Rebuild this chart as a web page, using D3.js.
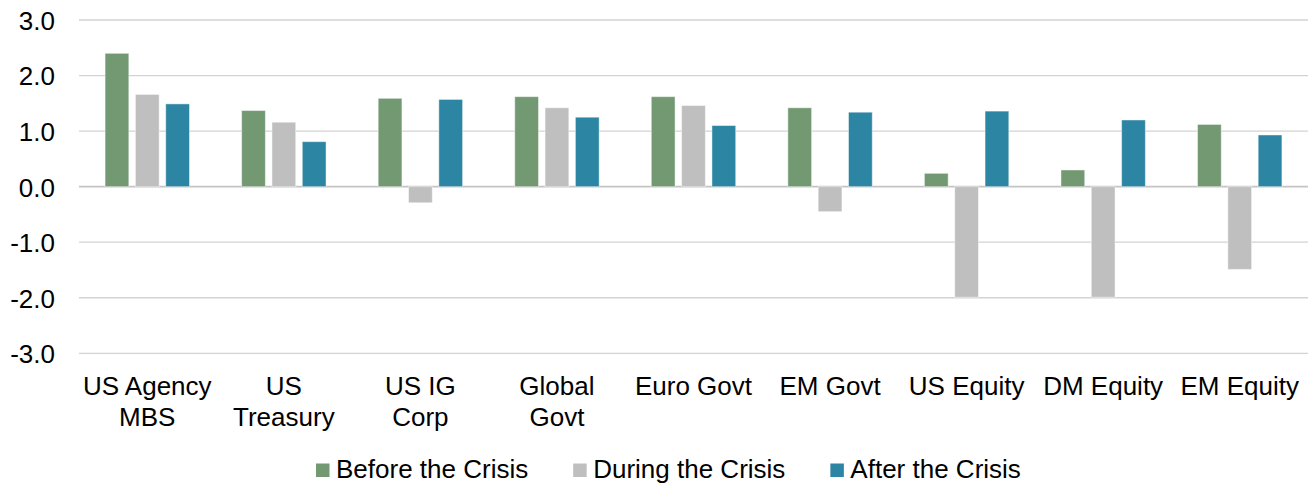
<!DOCTYPE html>
<html>
<head>
<meta charset="utf-8">
<script src="https://cdn.jsdelivr.net/npm/d3@7"></script>
<style>
    html, body { margin: 0; padding: 0; background: #fff; }
    svg { display: block; font-family: 'Liberation Sans', Arial, sans-serif; }
</style>
</head>
<body>
<div class="chart"></div>
<script>
const categories = ['US Agency\nMBS', 'US\nTreasury', 'US IG\nCorp', 'Global\nGovt', 'Euro Govt', 'EM Govt', 'US Equity', 'DM Equity', 'EM Equity'];
const seriesNames = ['Before the Crisis', 'During the Crisis', 'After the Crisis'];
const beforeValues = [2.40, 1.37, 1.59, 1.62, 1.62, 1.42, 0.24, 0.30, 1.12];
const duringValues = [1.66, 1.16, -0.29, 1.42, 1.46, -0.45, -1.99, -1.99, -1.49];
const afterValues = [1.49, 0.81, 1.57, 1.25, 1.10, 1.34, 1.36, 1.20, 0.93];
const yTicks = [-3, -2, -1, 0, 1, 2, 3];
const colors = ['#739973', '#bfbfbf', '#2c85a2'];

const WIDTH = 1310;
const HEIGHT = 487;
const MARGINS = { top: 20, right: 2, bottom: 134, left: 79 };

const seriesValues = [beforeValues, duringValues, afterValues];
const rows = categories.map((c, i) => ({
    name: c,
    values: seriesNames.map((s, j) => ({ series: s, value: seriesValues[j][i] }))
}));

const svg = d3.select('.chart')
    .append('svg')
    .attr('width', WIDTH)
    .attr('height', HEIGHT);

const x0 = d3.scaleBand()
    .domain(categories)
    .range([MARGINS.left, WIDTH - MARGINS.right])
    .padding(0);

const x1 = d3.scaleBand()
    .domain(seriesNames)
    .range([0, x0.bandwidth()])
    .paddingInner(0.217)
    .paddingOuter(0.86);

const y = d3.scaleLinear()
    .domain([-3, 3])
    .range([HEIGHT - MARGINS.bottom + 0.3, MARGINS.top]);

const color = d3.scaleOrdinal().domain(seriesNames).range(colors);

// gridlines
svg.append('g')
    .selectAll('line')
    .data(yTicks)
    .join('line')
    .attr('x1', MARGINS.left)
    .attr('x2', WIDTH - MARGINS.right)
    .attr('y1', (d) => y(d))
    .attr('y2', (d) => y(d))
    .attr('stroke', (d) => (d === 0 ? '#c4c4c4' : '#d3d3d3'))
    .attr('stroke-width', (d) => (d === 0 ? 1.6 : 1.3));

// y axis labels (plain hyphen for negatives, like the original)
const fmt = d3.format('.1f');
const yAxis = d3.axisLeft(y)
    .tickValues(yTicks)
    .tickFormat((d) => fmt(d).replace('\u2212', '-'))
    .tickSize(0)
    .tickPadding(0);

svg.append('g')
    .attr('transform', 'translate(55,0)')
    .call(yAxis)
    .call((g) => g.select('.domain').remove())
    .call((g) => g.selectAll('text')
        .attr('font-size', 26)
        .attr('font-family', "'Liberation Sans', Arial, sans-serif")
        .attr('fill', '#000')
        .attr('dy', '0.36em'));

// bars
const groups = svg.append('g')
    .selectAll('g')
    .data(rows)
    .join('g')
    .attr('transform', (d) => `translate(${x0(d.name)},0)`);

groups.selectAll('rect')
    .data((d) => d.values)
    .join('rect')
    .attr('x', (d) => x1(d.series))
    .attr('width', x1.bandwidth())
    .attr('y', (d) => y(Math.max(0, d.value)))
    .attr('height', (d) => Math.abs(y(d.value) - y(0)))
    .attr('fill', (d) => color(d.series))
    .attr('stroke', '#ffffff')
    .attr('stroke-opacity', 0.45)
    .attr('stroke-width', 1);

// category labels
const labels = svg.append('g')
    .selectAll('text')
    .data(categories)
    .join('text')
    .attr('x', (d) => x0(d) + x0.bandwidth() / 2)
    .attr('y', 395)
    .attr('text-anchor', 'middle')
    .attr('font-size', 26)
    .attr('fill', '#000');

labels.selectAll('tspan')
    .data((d) => d.split('\n'))
    .join('tspan')
    .attr('x', function () { return d3.select(this.parentNode).attr('x'); })
    .attr('dy', (d, i) => (i === 0 ? 0 : 31))
    .text((d) => d);

// legend
const legend = svg.append('g');
let legendX = 316;
seriesNames.forEach((s) => {
    legend.append('rect')
        .attr('x', legendX)
        .attr('y', 463.5)
        .attr('width', 13.5)
        .attr('height', 13.5)
        .attr('fill', color(s));
    const t = legend.append('text')
        .attr('x', legendX + 20)
        .attr('y', 478)
        .attr('font-size', 26)
        .attr('fill', '#000')
        .text(s);
    legendX += 20 + t.node().getComputedTextLength() + 45;
});
</script>
</body>
</html>
